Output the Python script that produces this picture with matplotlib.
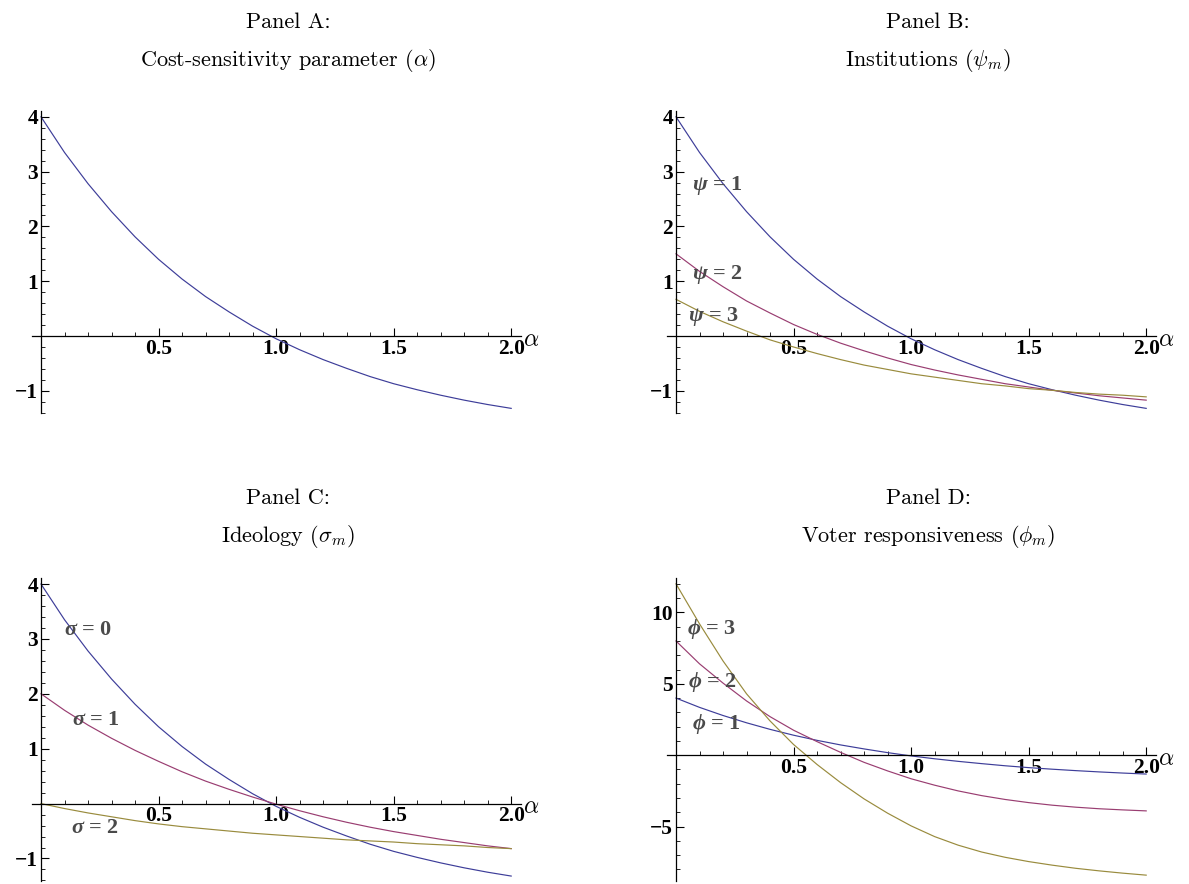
import matplotlib
matplotlib.use("Agg")
import matplotlib.pyplot as plt
import numpy as np

# values, alpha from 0 to 2 in steps of 0.1
alpha = [0.0, 0.1, 0.2, 0.3, 0.4, 0.5, 0.6, 0.7, 0.8, 0.9, 1.0,
         1.1, 1.2, 1.3, 1.4, 1.5, 1.6, 1.7, 1.8, 1.9, 2.0]

base = [4.00, 3.35, 2.78, 2.27, 1.81, 1.40, 1.04, 0.72, 0.44, 0.18, -0.05,
        -0.25, -0.43, -0.59, -0.74, -0.87, -0.98, -1.08, -1.17, -1.25, -1.32]

psi_2 = [1.50, 1.18, 0.90, 0.64, 0.42, 0.21, 0.03, -0.13, -0.27, -0.40, -0.52,
         -0.62, -0.71, -0.79, -0.87, -0.93, -0.99, -1.04, -1.09, -1.13, -1.17]
psi_3 = [0.67, 0.45, 0.26, 0.09, -0.07, -0.20, -0.32, -0.43, -0.53, -0.61, -0.69,
         -0.75, -0.81, -0.87, -0.91, -0.96, -0.99, -1.03, -1.06, -1.08, -1.11]

sigma_1 = [2.00, 1.70, 1.43, 1.19, 0.97, 0.77, 0.58, 0.41, 0.26, 0.12, -0.01,
           -0.13, -0.24, -0.34, -0.43, -0.51, -0.58, -0.65, -0.71, -0.77, -0.82]
sigma_2 = [0.00, -0.09, -0.17, -0.24, -0.31, -0.37, -0.42, -0.46, -0.50, -0.54, -0.57,
           -0.60, -0.63, -0.66, -0.68, -0.70, -0.73, -0.75, -0.77, -0.80, -0.82]

phi_2 = [8.00, 6.40, 5.05, 3.80, 2.70, 1.75, 0.95, 0.20, -0.50, -1.10, -1.65,
         -2.10, -2.50, -2.83, -3.10, -3.32, -3.50, -3.64, -3.75, -3.83, -3.90]
phi_3 = [12.0, 9.20, 6.60, 4.30, 2.40, 0.75, -0.65, -1.92, -3.06, -4.06, -4.95,
         -5.70, -6.30, -6.78, -7.15, -7.45, -7.70, -7.92, -8.10, -8.26, -8.40]

titles = [
    ("Panel A:", r"Cost-sensitivity parameter ($\alpha$)"),
    ("Panel B:", r"Institutions ($\psi_m$)"),
    ("Panel C:", r"Ideology ($\sigma_m$)"),
    ("Panel D:", r"Voter responsiveness ($\phi_m$)"),
]

x_ticks = [0.5, 1.0, 1.5, 2.0]
x_ticklabels = ["0.5", "1.0", "1.5", "2.0"]
y_ticks_small = [-1, 1, 2, 3, 4]
y_ticks_d = [-5, 5, 10]

labels_b = [r"$\psi$ = 1", r"$\psi$ = 2", r"$\psi$ = 3"]
labels_c = [r"$\sigma$ = 0", r"$\sigma$ = 1", r"$\sigma$ = 2"]
labels_d = [r"$\phi$ = 1", r"$\phi$ = 2", r"$\phi$ = 3"]
label_pos_b = [(0.175, 2.74), (0.175, 1.13), (0.16, 0.36)]
label_pos_c = [(0.20, 3.17), (0.234, 1.53), (0.231, -0.44)]
label_pos_d = [(0.17, 2.18), (0.154, 5.12), (0.153, 8.86)]

colors = ["#3d3d99", "#993d71", "#998b3d"]

plt.rcParams["mathtext.fontset"] = "custom"
plt.rcParams["mathtext.it"] = "Liberation Serif:italic:bold"
plt.rcParams["mathtext.rm"] = "Liberation Serif:bold"
plt.rcParams["mathtext.bf"] = "Liberation Serif:bold"
plt.rcParams["axes.unicode_minus"] = True

W, H = 1189, 884
fig = plt.figure(figsize=(W / 100, H / 100), dpi=100)


def make_axes(left_px, top_px, width_px, height_px):
    return fig.add_axes([left_px / W, 1 - (top_px + height_px) / H,
                         width_px / W, height_px / H])


def style(ax, ylim, yticks, yminor_step):
    ax.set_xlim(-0.04, 2.04)
    ax.set_ylim(*ylim)
    ax.patch.set_visible(False)
    for s in ["top", "right"]:
        ax.spines[s].set_visible(False)
    ax.spines["left"].set_position(("data", 0))
    ax.spines["bottom"].set_position(("data", 0))
    for s in ["left", "bottom"]:
        ax.spines[s].set_linewidth(0.9)
    ax.set_xticks(x_ticks)
    ax.set_xticklabels(x_ticklabels)
    xminor = [v for v in np.round(np.arange(0.1, 2.0, 0.1), 2) if v not in x_ticks]
    ax.set_xticks(xminor, minor=True)
    ax.set_yticks(yticks)
    ax.set_yticklabels([str(v).replace("-", "\u2212") for v in yticks])
    ym = np.round(np.arange(np.ceil(ylim[0] / yminor_step) * yminor_step,
                            ylim[1], yminor_step), 3)
    ym = [v for v in ym if abs(v) > 1e-9 and not any(abs(v - t) < 1e-9 for t in yticks)]
    ax.set_yticks(ym, minor=True)
    ax.tick_params(which="both", direction="in", top=False, right=False)
    ax.tick_params(which="major", length=5.5, width=0.8, labelsize=15.5, pad=2)
    ax.tick_params(which="minor", length=3, width=0.6)
    for lab in ax.get_xticklabels() + ax.get_yticklabels():
        lab.set_fontfamily("Liberation Serif")
        lab.set_fontweight("bold")
    ax.annotate(r"$\alpha$", xy=(1, 0), xycoords=("axes fraction", "data"),
                xytext=(1.5, -2), textcoords="offset points", ha="left", va="center",
                fontsize=17, math_fontfamily="cm")


def add_labels(ax, texts, positions):
    for t, (x, y) in zip(texts, positions):
        ax.text(x, y, t, ha="center", va="center", fontsize=16,
                fontfamily="Liberation Serif", fontweight="bold", color="#4a4a4a")


axA = make_axes(31.6, 110.8, 489, 302.5)
axB = make_axes(666.6, 110.8, 489, 302.5)
axC = make_axes(31.6, 578, 489, 303)
axD = make_axes(666.6, 578, 489, 303)

axA.plot(alpha, base, color=colors[0], lw=0.85)
style(axA, (-1.41, 4.11), y_ticks_small, 0.2)

for vals, c in zip([base, psi_2, psi_3], colors):
    axB.plot(alpha, vals, color=c, lw=0.85)
style(axB, (-1.41, 4.11), y_ticks_small, 0.2)
add_labels(axB, labels_b, label_pos_b)

for vals, c in zip([base, sigma_1, sigma_2], colors):
    axC.plot(alpha, vals, color=c, lw=0.85)
style(axC, (-1.41, 4.11), y_ticks_small, 0.2)
add_labels(axC, labels_c, label_pos_c)

for vals, c in zip([base, phi_2, phi_3], colors):
    axD.plot(alpha, vals, color=c, lw=0.85)
style(axD, (-8.81, 12.41), y_ticks_d, 1)
add_labels(axD, labels_d, label_pos_d)

title_x = [288, 928, 288, 928]
title_y = [(28, 66), (28, 66), (504, 542), (504, 542)]
for (l1, l2), tx, (y1, y2) in zip(titles, title_x, title_y):
    fig.text(tx / W, 1 - y1 / H, l1, ha="center", va="baseline", fontsize=16,
             fontfamily="cmr10", math_fontfamily="cm")
    fig.text(tx / W, 1 - y2 / H, l2, ha="center", va="baseline", fontsize=16,
             fontfamily="cmr10", math_fontfamily="cm")

fig.savefig("out.png", dpi=100)
